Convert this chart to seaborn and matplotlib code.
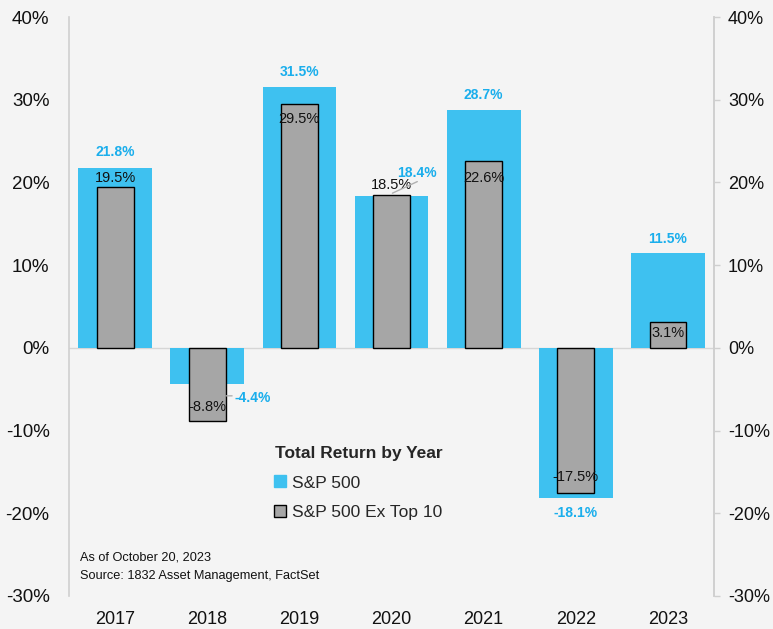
import pandas as pd
import seaborn as sns
import matplotlib.pyplot as plt
import matplotlib.ticker as ticker
from matplotlib.lines import Line2D

# --------------------------------------------------------------------------------------
# data
years = ['2017', '2018', '2019', '2020', '2021', '2022', '2023']
sp500 = [21.8, -4.4, 31.5, 18.4, 28.7, -18.1, 11.5]
sp500_ex10 = [19.5, -8.8, 29.5, 18.5, 22.6, -17.5, 3.1]

y_ticks = [-30, -20, -10, 0, 10, 20, 30, 40]

# --------------------------------------------------------------------------------------
blue = '#3ec1f0'
blue_txt = '#1aaeec'
grey = '#a6a6a6'
bg = '#f4f4f4'

sns.set_theme(style='white')
plt.rcParams['font.family'] = ['Liberation Sans Narrow', 'Liberation Sans', 'DejaVu Sans']

df = pd.DataFrame({'Year': years, 'S&P 500': sp500, 'S&P 500 Ex Top 10': sp500_ex10})

fig = plt.figure(figsize=(7.73, 6.29), dpi=100, facecolor=bg)
ax = fig.add_axes([69 / 773, 1 - 596 / 629, 645 / 773, 579 / 629])
ax.set_facecolor(bg)

ax.axhline(0, color='#d6d6d6', linewidth=1, zorder=0)

sns.barplot(data=df, x='Year', y='S&P 500', color=blue, saturation=1.0, width=0.8,
            linewidth=0, ax=ax, zorder=2)
sns.barplot(data=df, x='Year', y='S&P 500 Ex Top 10', color=grey, saturation=1.0, width=0.4,
            edgecolor='black', linewidth=1, ax=ax, zorder=3)

ax.set_ylim(-30, 40)
ax.set_xlim(-0.5, 6.5)
ax.yaxis.set_major_locator(ticker.FixedLocator(y_ticks))
ax.yaxis.set_major_formatter(ticker.FuncFormatter(lambda v, p: f'{v:.0f}%'))
ax.set_xlabel('')
ax.set_ylabel('')

for s in ['top', 'bottom']:
    ax.spines[s].set_visible(False)
ax.spines['left'].set_color('#cfcfcf')
ax.spines['left'].set_linewidth(1.2)
ax.spines['right'].set_color('#cfcfcf')
ax.spines['right'].set_linewidth(1.2)

ax.tick_params(axis='y', left=False, length=0, pad=14, labelsize=13.5, labelcolor='#111111')
ax.tick_params(axis='x', bottom=False, length=0, pad=11, labelsize=13, labelcolor='#111111')

# right axis mirror
ax2 = ax.twinx()
ax2.set_ylim(ax.get_ylim())
ax2.yaxis.set_major_locator(ticker.FixedLocator(y_ticks))
ax2.yaxis.set_major_formatter(ticker.FuncFormatter(lambda v, p: f'{v:.0f}%'))
ax2.tick_params(axis='y', right=True, length=4, width=1, color='#cfcfcf', pad=6,
                labelsize=13, labelcolor='#111111')
for s in ['top', 'bottom', 'left']:
    ax2.spines[s].set_visible(False)
ax2.spines['right'].set_color('#cfcfcf')
ax2.spines['right'].set_linewidth(1.2)
ax2.grid(False)

# value labels (offsets in points)
blue_off = {0: (0, 11), 1: (33, -10), 2: (0, 11), 3: (18, 16), 4: (0, 11), 5: (0, -11), 6: (0, 10)}
grey_off = {0: (0, 6), 1: (0, 10), 2: (0, -11), 3: (0, 7), 4: (0, -12), 5: (0, 11), 6: (0, -8)}

for i, v in enumerate(sp500):
    dx, dy = blue_off[i]
    ax.annotate(f'{v}%', xy=(i, v), xytext=(dx, dy), textcoords='offset points',
                ha='center', va='center', fontsize=10, fontweight='bold', color=blue_txt, zorder=5)

for i, v in enumerate(sp500_ex10):
    dx, dy = grey_off[i]
    ax.annotate(f'{v}%', xy=(i, v), xytext=(dx, dy), textcoords='offset points',
                ha='center', va='center', fontsize=10.5, color='#111111', zorder=5)

# leader lines for the crowded labels
ax.annotate('', xy=(1.205, -5.8), xytext=(1.27, -5.8),
            arrowprops=dict(arrowstyle='-', color='#b0b0b0', lw=1, shrinkA=0, shrinkB=0), zorder=5)
ax.annotate('', xy=(3.01, 18.7), xytext=(3.28, 20.1),
            arrowprops=dict(arrowstyle='-', color='#b0b0b0', lw=1, shrinkA=0, shrinkB=0), zorder=5)

# legend
handles = [Line2D([], [], marker='s', linestyle='none', markersize=8, markerfacecolor=blue,
                  markeredgecolor=blue),
           Line2D([], [], marker='s', linestyle='none', markersize=8, markerfacecolor=grey,
                  markeredgecolor='black', markeredgewidth=1)]
leg = ax.legend(handles, ['S&P 500', 'S&P 500 Ex Top 10'], title='Total Return by Year',
                loc='upper left', bbox_to_anchor=(259 / 773, 1 - 430 / 629),
                bbox_transform=fig.transFigure, frameon=False, fontsize=12.5,
                title_fontproperties={'weight': 'bold', 'size': 12.5},
                handlelength=0.6, handletextpad=0.35, labelspacing=0.85)

fig.text(80 / 773, 1 - 557 / 629, 'As of October 20, 2023', fontsize=9.2, va='center', color='#111111')
fig.text(80 / 773, 1 - 576 / 629, 'Source: 1832 Asset Management, FactSet', fontsize=9.2,
         va='center', color='#111111')

plt.savefig('out.png', dpi=100, facecolor=bg)
